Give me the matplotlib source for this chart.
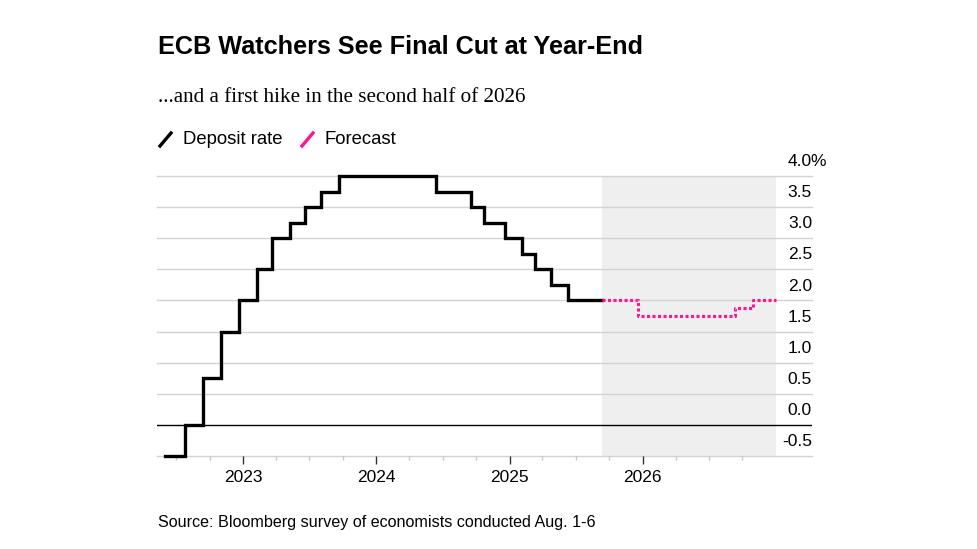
#!/usr/bin/env python3
"""ECB deposit rate with survey forecast, Bloomberg style."""

import matplotlib
matplotlib.use("Agg")
import matplotlib.pyplot as plt
import pandas as pd
from matplotlib.lines import Line2D
from matplotlib.transforms import offset_copy

W, H = 977, 549

actual_dates = ["2022-06-01", "2022-07-27", "2022-09-14", "2022-11-02", "2022-12-21",
                "2023-02-08", "2023-03-22", "2023-05-10", "2023-06-21", "2023-08-02",
                "2023-09-20", "2024-06-12", "2024-09-18", "2024-10-23", "2024-12-18",
                "2025-02-05", "2025-03-12", "2025-04-23", "2025-06-11", "2025-09-11"]
actual_rates = [-0.5, 0.0, 0.75, 1.5, 2.0, 2.5, 3.0, 3.25, 3.5, 3.75,
                4.0, 3.75, 3.5, 3.25, 3.0, 2.75, 2.5, 2.25, 2.0, 2.0]

forecast_dates = ["2025-09-11", "2025-12-18", "2026-09-10", "2026-10-29", "2026-12-31"]
forecast_rates = [2.0, 1.75, 1.875, 2.0, 2.0]

y_ticks = [-0.5, 0.0, 0.5, 1.0, 1.5, 2.0, 2.5, 3.0, 3.5, 4.0]
year_ticks = [2023, 2024, 2025, 2026]

PINK = "#ff1493"
GRID = "#d3d3d3"
SANS = "Liberation Sans"


def fx(px):
    return px / W


def fy(py):
    return 1 - py / H


fig = plt.figure(figsize=(W / 100, H / 100), dpi=100)
ax = fig.add_axes([fx(157), fy(456), fx(812) - fx(157), fy(176) - fy(456)])

ax.set_xlim(pd.Timestamp("2022-05-10"), pd.Timestamp("2027-04-10"))
ax.set_ylim(-0.5, 4.0)

# forecast shading
ax.axvspan(pd.Timestamp("2025-09-11"), pd.Timestamp("2026-12-31"), color="#efefef", lw=0, zorder=0)

for v in y_ticks:
    if v == 0:
        ax.axhline(v, color="black", lw=1.0, zorder=1)
    else:
        ax.axhline(v, color=GRID, lw=1.0, zorder=1, clip_on=False)

ax.step(pd.to_datetime(actual_dates), actual_rates, where="post", color="black",
        lw=2.4, zorder=3, clip_on=False, solid_joinstyle="miter")
ax.step(pd.to_datetime(forecast_dates), forecast_rates, where="post", color=PINK,
        lw=2.2, ls=(0, (1, 0.8)), zorder=3, clip_on=False)

for s in ax.spines.values():
    s.set_visible(False)
ax.set_yticks([])

ax.set_xticks([pd.Timestamp(f"{y}-01-01") for y in year_ticks])
ax.set_xticklabels([str(y) for y in year_ticks])
minor = pd.date_range("2022-07-01", "2026-10-01", freq="QS")
ax.set_xticks([d for d in minor if d.month != 1], minor=True)
ax.tick_params(axis="x", which="major", length=6, width=1, color="#333333",
               labelsize=12.5, pad=4, labelfontfamily=SANS)
ax.tick_params(axis="x", which="minor", length=3, width=1, color="#c8c8c8")

# y labels sit above their gridlines on the right
ytrans = ax.get_yaxis_transform()
for v in y_ticks:
    ax.text(1.0, v + 0.11, f"{v:.1f}", transform=ytrans,
            ha="right", va="bottom", fontsize=12.5, family=SANS)
ax.text(1.0, 4.0 + 0.11, "%", transform=offset_copy(ytrans, fig=fig, x=-1.5, units="dots"),
        ha="left", va="bottom", fontsize=12.5, family=SANS)

# titles
fig.text(fx(158), fy(47), "ECB Watchers See Final Cut at Year-End", ha="left", va="center",
         fontsize=18.2, fontweight="bold", family=SANS)
fig.text(fx(158), fy(97), "...and a first hike in the second half of 2026", ha="left", va="center",
         fontsize=15.2, family="Liberation Serif")

# legend
fig.add_artist(Line2D([fx(160), fx(171)], [fy(146), fy(133)], color="black", lw=2.4))
fig.text(fx(183), fy(139), "Deposit rate", ha="left", va="center", fontsize=13.3, family=SANS)
fig.add_artist(Line2D([fx(302), fx(313)], [fy(146), fy(133)], color=PINK, lw=2.4))
fig.text(fx(325), fy(139), "Forecast", ha="left", va="center", fontsize=13.3, family=SANS)

fig.text(fx(158), fy(522), "Source: Bloomberg survey of economists conducted Aug. 1-6", ha="left",
         va="center", fontsize=11.6, family=SANS)

fig.savefig("out.png", dpi=100)
